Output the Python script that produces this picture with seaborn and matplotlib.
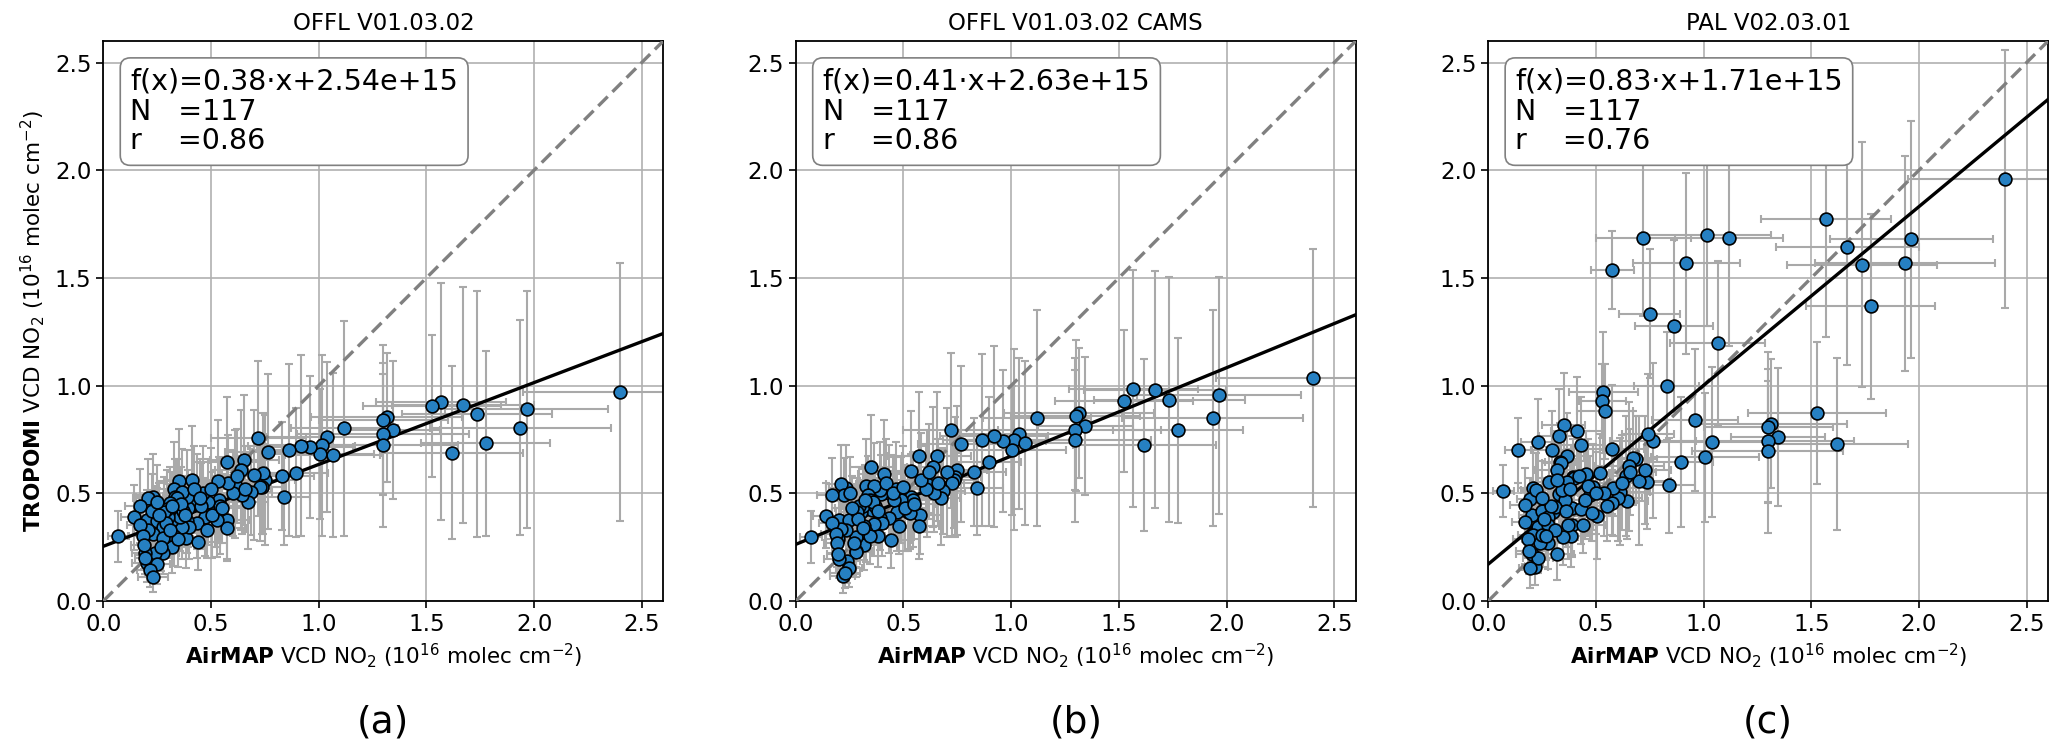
import numpy as np
import matplotlib
matplotlib.use("Agg")
import matplotlib.pyplot as plt
import seaborn as sns

# AirMAP columns (1e16 molec cm-2), shared by all three panels
airmap = [2.40, 1.965, 1.935, 1.775, 1.735, 1.668, 1.619, 1.568, 1.525, 1.315, 1.30, 1.345, 1.297, 1.297,
          1.119, 1.037, 1.014, 1.065, 1.006, 0.96, 0.92, 0.895, 0.863, 0.84, 0.828, 0.766, 0.72,
          0.749, 0.741, 0.735, 0.70, 0.727, 0.684, 0.673, 0.655, 0.638, 0.642, 0.611, 0.603, 0.58, 0.573,
          0.576, 0.573, 0.537, 0.534, 0.519, 0.53, 0.543,
          0.41, 0.433, 0.488, 0.472, 0.505, 0.395, 0.39, 0.433, 0.39, 0.384, 0.441, 0.40, 0.455, 0.465,
          0.351, 0.328, 0.364, 0.333, 0.34, 0.364, 0.317, 0.328, 0.317, 0.356, 0.302, 0.343, 0.31, 0.37, 0.345,
          0.232, 0.209, 0.201, 0.248, 0.294, 0.279, 0.232, 0.209, 0.279, 0.279, 0.24, 0.201, 0.248, 0.217,
          0.23, 0.282, 0.194, 0.224,
          0.17, 0.14, 0.07, 0.17, 0.186, 0.19, 0.195,
          0.29, 0.26, 0.31, 0.36, 0.42, 0.45, 0.50, 0.55, 0.62, 0.38, 0.27, 0.25, 0.66, 0.48, 0.32]
airmap_err = [0.45, 0.38, 0.42, 0.30, 0.35, 0.33, 0.33, 0.30, 0.32, 0.35, 0.30, 0.22, 0.40, 0.35,
              0.25, 0.28, 0.30, 0.22, 0.25, 0.20, 0.25, 0.15, 0.18, 0.12, 0.15, 0.20, 0.22,
              0.14, 0.12, 0.10, 0.15, 0.12, 0.10, 0.09, 0.16, 0.12, 0.10, 0.14, 0.11, 0.12, 0.15,
              0.10, 0.09, 0.12, 0.16, 0.10, 0.11, 0.13,
              0.12, 0.10, 0.09, 0.10, 0.11, 0.08, 0.10, 0.09, 0.08, 0.09, 0.10, 0.08, 0.11, 0.12,
              0.10, 0.09, 0.08, 0.07, 0.09, 0.08, 0.10, 0.07, 0.08, 0.09, 0.07, 0.08, 0.09, 0.08, 0.07,
              0.08, 0.07, 0.06, 0.08, 0.09, 0.07, 0.06, 0.07, 0.08, 0.07, 0.06, 0.07, 0.06, 0.06,
              0.07, 0.08, 0.06, 0.07,
              0.07, 0.06, 0.05, 0.06, 0.07, 0.06, 0.05,
              0.07, 0.08, 0.07, 0.08, 0.10, 0.09, 0.11, 0.10, 0.12, 0.08, 0.06, 0.07, 0.12, 0.09, 0.07]

# TROPOMI columns for the three product versions
offl = [0.97, 0.89, 0.805, 0.732, 0.867, 0.91, 0.689, 0.925, 0.905, 0.853, 0.84, 0.794, 0.775, 0.724,
        0.802, 0.761, 0.724, 0.678, 0.683, 0.716, 0.72, 0.596, 0.70, 0.481, 0.58, 0.693, 0.755,
        0.562, 0.592, 0.531, 0.585, 0.527, 0.507, 0.461, 0.655, 0.608, 0.492, 0.543, 0.50, 0.55, 0.647,
        0.376, 0.337, 0.469, 0.559, 0.43, 0.376, 0.44,
        0.564, 0.461, 0.461, 0.391, 0.40, 0.43, 0.481, 0.36, 0.373, 0.291, 0.275, 0.345, 0.44, 0.50,
        0.559, 0.518, 0.507, 0.481, 0.43, 0.345, 0.376, 0.302, 0.252, 0.391, 0.391, 0.477, 0.454, 0.42, 0.29,
        0.481, 0.477, 0.376, 0.373, 0.426, 0.345, 0.311, 0.33, 0.291, 0.224, 0.221, 0.178, 0.171, 0.144,
        0.113, 0.415, 0.224, 0.42,
        0.441, 0.388, 0.30, 0.353, 0.30, 0.26, 0.20,
        0.36, 0.40, 0.33, 0.45, 0.52, 0.48, 0.52, 0.43, 0.58, 0.40, 0.25, 0.46, 0.52, 0.33, 0.44]
offl_cams = [1.035, 0.955, 0.85, 0.793, 0.935, 0.981, 0.723, 0.986, 0.927, 0.873, 0.861, 0.814, 0.793, 0.746,
             0.85, 0.776, 0.749, 0.734, 0.70, 0.741, 0.765, 0.646, 0.746, 0.525, 0.598, 0.729, 0.793,
             0.607, 0.576, 0.56, 0.598, 0.55, 0.509, 0.48, 0.672, 0.622, 0.502, 0.545, 0.52, 0.56, 0.672,
             0.40, 0.347, 0.483, 0.602, 0.412, 0.41, 0.47,
             0.591, 0.502, 0.47, 0.412, 0.43, 0.498, 0.517, 0.385, 0.385, 0.30, 0.285, 0.36, 0.47, 0.52,
             0.622, 0.533, 0.533, 0.494, 0.447, 0.359, 0.35, 0.319, 0.262, 0.424, 0.412, 0.471, 0.443, 0.44, 0.30,
             0.525, 0.545, 0.375, 0.378, 0.443, 0.297, 0.328, 0.334, 0.231, 0.226, 0.184, 0.195, 0.153, 0.115,
             0.13, 0.412, 0.288, 0.494,
             0.494, 0.396, 0.297, 0.362, 0.31, 0.27, 0.22,
             0.38, 0.43, 0.34, 0.46, 0.55, 0.50, 0.53, 0.45, 0.60, 0.42, 0.27, 0.50, 0.55, 0.35, 0.47]
pal = [1.96, 1.68, 1.567, 1.368, 1.562, 1.644, 0.729, 1.774, 0.873, 0.824, 0.807, 0.76, 0.741, 0.695,
       1.683, 0.738, 1.698, 1.198, 0.667, 0.84, 1.567, 0.645, 1.277, 0.537, 0.997, 0.745, 1.683,
       1.333, 0.776, 0.554, 0.559, 0.608, 0.657, 0.664, 0.626, 0.58, 0.466, 0.508, 0.477, 0.523, 0.704,
       1.537, 0.456, 0.503, 0.969, 0.596, 0.929, 0.881,
       0.788, 0.726, 0.531, 0.492, 0.395, 0.574, 0.434, 0.426, 0.353, 0.30, 0.353, 0.572, 0.588, 0.534,
       0.819, 0.765, 0.675, 0.647, 0.639, 0.554, 0.608, 0.499, 0.218, 0.469, 0.414, 0.515, 0.438, 0.353, 0.296,
       0.74, 0.523, 0.399, 0.419, 0.70, 0.392, 0.345, 0.306, 0.268, 0.353, 0.268, 0.218, 0.306, 0.156,
       0.20, 0.554, 0.472, 0.515,
       0.446, 0.70, 0.51, 0.368, 0.286, 0.234, 0.152,
       0.44, 0.38, 0.33, 0.42, 0.58, 0.47, 0.50, 0.44, 0.55, 0.52, 0.30, 0.48, 0.60, 0.41, 0.56]
tropomi_err = [0.60, 0.55, 0.50, 0.43, 0.57, 0.55, 0.40, 0.55, 0.33, 0.30, 0.35, 0.32, 0.28, 0.38,
               0.50, 0.35, 0.42, 0.38, 0.30, 0.33, 0.42, 0.30, 0.40, 0.22, 0.25, 0.36, 0.36,
               0.30, 0.28, 0.22, 0.30, 0.25, 0.20, 0.22, 0.30, 0.28, 0.18, 0.25, 0.20, 0.22, 0.30,
               0.18, 0.15, 0.20, 0.28, 0.18, 0.17, 0.22,
               0.25, 0.22, 0.20, 0.18, 0.20, 0.18, 0.22, 0.16, 0.15, 0.14, 0.13, 0.15, 0.20, 0.22,
               0.24, 0.22, 0.20, 0.18, 0.17, 0.15, 0.16, 0.14, 0.12, 0.16, 0.15, 0.18, 0.17, 0.16, 0.13,
               0.20, 0.18, 0.14, 0.15, 0.18, 0.14, 0.13, 0.13, 0.12, 0.10, 0.10, 0.09, 0.09, 0.08,
               0.07, 0.16, 0.10, 0.17,
               0.17, 0.15, 0.12, 0.14, 0.12, 0.11, 0.09,
               0.14, 0.15, 0.13, 0.17, 0.20, 0.18, 0.19, 0.16, 0.22, 0.15, 0.11, 0.17, 0.20, 0.13, 0.16]

titles = ['OFFL V01.03.02', 'OFFL V01.03.02 CAMS', 'PAL V02.03.01']
slopes = [0.38, 0.41, 0.83]
intercepts = [2.54e15, 2.63e15, 1.71e15]
corr = [0.86, 0.86, 0.76]
n_points = [117, 117, 117]
panel_tags = ['(a)', '(b)', '(c)']

fig = plt.figure(figsize=(20.67, 7.49), dpi=100)
lefts = [0.050, 0.385, 0.720]
xlabel = r'$\bf{AirMAP}$ VCD NO$_2$ (10$^{16}$ molec cm$^{-2}$)'
ylabel = r'$\bf{TROPOMI}$ VCD NO$_2$ (10$^{16}$ molec cm$^{-2}$)'

for i, yvals in enumerate([offl, offl_cams, pal]):
    ax = fig.add_axes([lefts[i], 0.1976, 0.2709, 0.7477])
    ax.set_axisbelow(True)
    ax.grid(True, color='#b0b0b0', linewidth=1.2)
    ax.errorbar(airmap, yvals, xerr=airmap_err, yerr=tropomi_err, fmt='none',
                ecolor='darkgray', elinewidth=1.5, capsize=3, capthick=1.5, zorder=2)
    line_x = np.array([0.0, 2.6])
    ax.plot(line_x, line_x, color='gray', linestyle='--', linewidth=2.4, dashes=(4, 2), zorder=3)
    ax.plot(line_x, slopes[i] * line_x + intercepts[i] / 1e16, color='black', linewidth=2.4, zorder=3)
    sns.scatterplot(x=airmap, y=yvals, ax=ax, color='#2680c2', edgecolor='black',
                    linewidth=1.2, s=85, zorder=4)
    ax.set_xlim(0, 2.6)
    ax.set_ylim(0, 2.6)
    ax.set_xticks([0.0, 0.5, 1.0, 1.5, 2.0, 2.5])
    ax.set_yticks([0.0, 0.5, 1.0, 1.5, 2.0, 2.5])
    ax.tick_params(labelsize=16.5, width=1.2, length=5)
    for sp in ax.spines.values():
        sp.set_linewidth(1.3)
    ax.set_title(titles[i], fontsize=16.5, pad=8)
    ax.set_xlabel(xlabel, fontsize=15.5, labelpad=4)
    if i == 0:
        ax.set_ylabel(ylabel, fontsize=15.5, labelpad=6)
    txt = 'f(x)={:.2f}\u00b7x+{:.2e}\nN   ={}\nr    ={:.2f}'.format(
        slopes[i], intercepts[i], n_points[i], corr[i])
    ax.text(0.048, 0.952, txt, transform=ax.transAxes, fontsize=20.5, va='top', ha='left',
            linespacing=1.08, zorder=6,
            bbox=dict(boxstyle='round,pad=0.35', facecolor='white', edgecolor='gray', linewidth=1.2))
    fig.text(lefts[i] + 0.2709 / 2, 0.036, panel_tags[i], fontsize=27, ha='center', va='center')

fig.savefig('out.png', dpi=100)
